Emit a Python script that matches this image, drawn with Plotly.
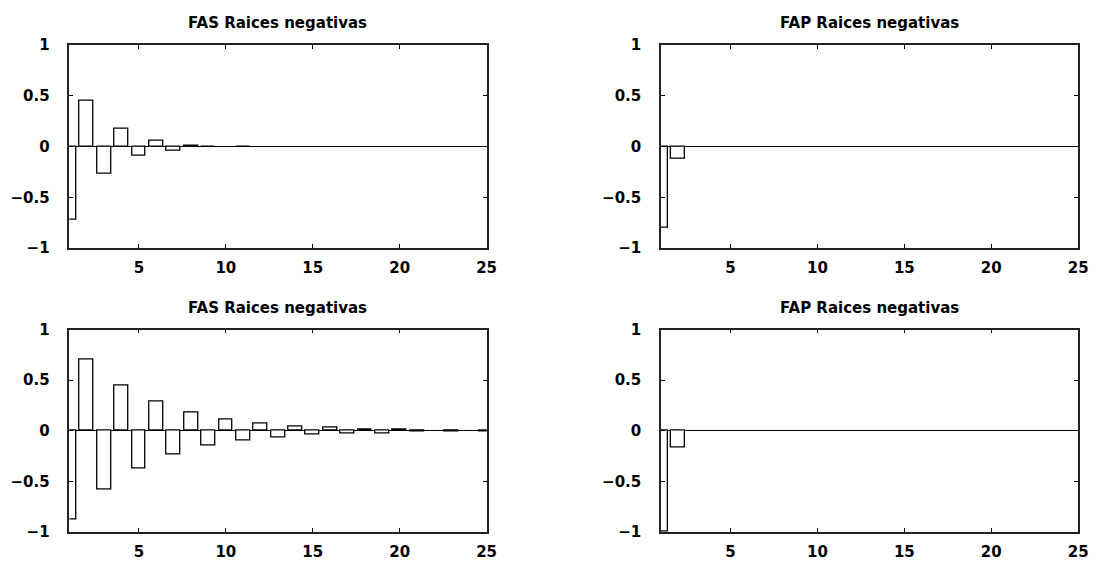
import plotly.graph_objects as go

lags = list(range(1, 26))

fas_top = [-0.72, 0.45, -0.27, 0.17, -0.095, 0.057, -0.038, 0.01, -0.008, 0.0,
           -0.008, 0.0, 0.0, 0.0, 0.0, 0.0, 0.0, 0.0, 0.0, 0.0,
           0.0, 0.0, 0.0, 0.0, 0.0]
fap_top = [-0.80, -0.12, 0.0, 0.0, 0.0, 0.0, 0.0, 0.0, 0.0, 0.0,
           0.0, 0.0, 0.0, 0.0, 0.0, 0.0, 0.0, 0.0, 0.0, 0.0,
           0.0, 0.0, 0.0, 0.0, 0.0]
fas_bot = [-0.88, 0.70, -0.58, 0.45, -0.37, 0.29, -0.235, 0.18, -0.15, 0.11,
           -0.10, 0.07, -0.07, 0.041, -0.041, 0.029, -0.029, 0.013, -0.023, 0.013,
           -0.006, 0.0, -0.006, 0.0, -0.006]
fap_bot = [-1.0, -0.17, 0.0, 0.0, 0.0, 0.0, 0.0, 0.0, 0.0, 0.0,
           0.0, 0.0, 0.0, 0.0, 0.0, 0.0, 0.0, 0.0, 0.0, 0.0,
           0.0, 0.0, 0.0, 0.0, 0.0]

titles = ["FAS Raices negativas", "FAP Raices negativas",
          "FAS Raices negativas", "FAP Raices negativas"]
series = [fas_top, fap_top, fas_bot, fap_bot]

xticks = [5, 10, 15, 20, 25]
yticks = [-1, -0.5, 0, 0.5, 1]
yticklabels = ["\u22121", "\u22120.5", "0", "0.5", "1"]

W, H = 1110, 569
xdoms = [[70 / W, 491 / W], [667 / W, 1088 / W]]
ydoms = [[(H - 247) / H, (H - 37) / H], [(H - 540) / H, (H - 331) / H]]

FONT = "DejaVu Sans"
fig = go.Figure()
layout = {}
annotations = []
for i, (vals, title) in enumerate(zip(series, titles)):
    r, c = divmod(i, 2)
    n = i + 1
    xa = "x" if n == 1 else f"x{n}"
    ya = "y" if n == 1 else f"y{n}"
    fig.add_trace(go.Bar(
        x=lags, y=vals, width=0.8, xaxis=xa, yaxis=ya,
        marker=dict(color="white",
                    line=dict(color="black",
                              width=[1.3 if v != 0 else 0 for v in vals])),
        showlegend=False,
    ))
    xkey = "xaxis" if n == 1 else f"xaxis{n}"
    ykey = "yaxis" if n == 1 else f"yaxis{n}"
    layout[xkey] = dict(
        domain=xdoms[c], anchor=ya, range=[1, 25],
        tickvals=xticks, ticktext=[str(t) for t in xticks],
        ticks="inside", ticklen=4, tickcolor="black", tickwidth=1.3,
        showline=True, linecolor="#222222", linewidth=1.5, mirror="ticks",
        showgrid=False, zeroline=False, ticklabelstandoff=5,
        tickfont=dict(family=FONT, size=15, color="black", weight="bold"),
    )
    layout[ykey] = dict(
        domain=ydoms[r], anchor=xa, range=[-1, 1],
        tickvals=yticks, ticktext=yticklabels,
        ticks="inside", ticklen=4, tickcolor="black", tickwidth=1.3,
        showline=True, linecolor="#222222", linewidth=1.5, mirror="ticks",
        showgrid=False, zeroline=True, zerolinecolor="black", zerolinewidth=1.3,
        ticklabelstandoff=15,
        tickfont=dict(family=FONT, size=15, color="black", weight="bold"),
    )
    annotations.append(dict(
        text=title, xref="paper", yref="paper",
        x=(xdoms[c][0] + xdoms[c][1]) / 2, y=ydoms[r][1],
        xanchor="center", yanchor="bottom", yshift=11, showarrow=False,
        font=dict(family=FONT, size=15, color="black", weight="bold"),
    ))

fig.update_layout(
    autosize=True,
    margin=dict(l=0, r=0, t=0, b=0),
    paper_bgcolor="white", plot_bgcolor="white",
    bargap=0, annotations=annotations,
    **layout,
)
fig.write_html(
    "out.html",
    default_width="100vw",
    default_height="100vh",
    config={"displayModeBar": False},
    post_script="document.body.style.margin='0';"
                "document.body.style.overflow='hidden';"
                "document.documentElement.style.overflow='hidden';",
)
